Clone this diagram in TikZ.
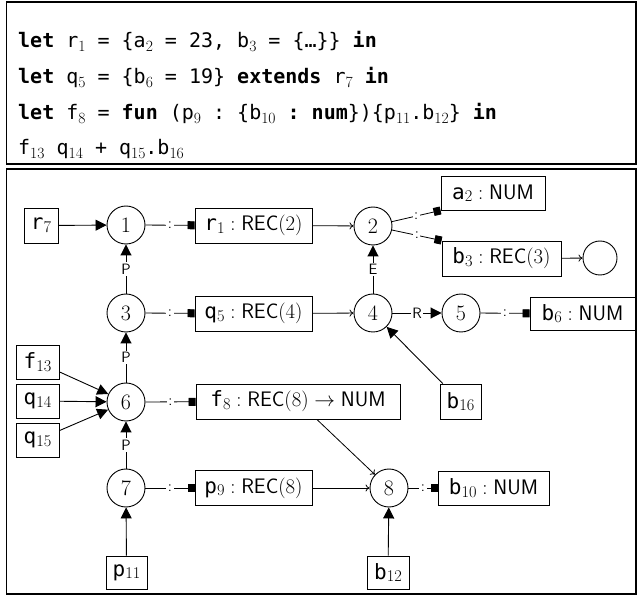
\documentclass[tikz,border=0pt]{standalone}
\usepackage{fontspec}
\setmonofont{DejaVu Sans Mono}
\usetikzlibrary{arrows.meta}
\makeatletter
\newcommand\vsub[1]{\raisebox{-0.28ex}{\fontsize{\strip@pt\dimexpr0.78\dimexpr\f@size pt\relax\relax}{1}\selectfont\rmfamily\mdseries #1}}
\makeatother
\begin{document}
\begin{tikzpicture}[x=1pt,y=-1pt,
 frame/.style={line width=1.2pt},
 codeline/.style={anchor=base west, inner sep=0pt, font=\fontsize{20}{22}\selectfont\ttfamily},
 vnode/.style={circle, draw, line width=0.9pt, minimum size=38pt, inner sep=0pt, font=\fontsize{22}{24}\selectfont},
 tbox/.style={draw, line width=0.9pt, minimum height=35pt, inner xsep=6pt, inner ysep=0pt, font=\fontsize{21}{23}\selectfont},
 heavy/.style={line width=0.9pt, -{Triangle[length=11pt,width=11pt]}},
 light/.style={line width=0.8pt, -{To[length=4pt,width=7pt]}},
 typed/.style={line width=0.8pt, -{Square[length=7pt,width=8pt]}},
 elab/.style={midway, fill=white, inner sep=1.5pt, font=\fontsize{15}{16}\selectfont\sffamily},
]
\useasboundingbox (0,0) rectangle (641,596);
\draw[frame] (6.5,2) rectangle (636,164);
\draw[frame] (6.5,169) rectangle (636,594);

% code
\node[codeline] (c1) at (18,48) {\textbf{let} r\vsub{1} = \{a\vsub{2} = 23, b\vsub{3} = \{\ldots\}\} \textbf{in}};
\node[codeline] (c2) at (18,84) {\textbf{let} q\vsub{5} = \{b\vsub{6} = 19\} \textbf{extends} r\vsub{7} \textbf{in}};
\node[codeline] (c3) at (18,120) {\textbf{let} f\vsub{8} = \textbf{fun} (p\vsub{9} : \{b\vsub{10} \textbf{: num}\})\{p\vsub{11}.b\vsub{12}\} \textbf{in}};
\node[codeline] (c4) at (18,155) {f\vsub{13} q\vsub{14} + q\vsub{15}.b\vsub{16}};

% graph nodes
\node[vnode] (n1) at (126,225) {1};
\node[vnode] (n2) at (373,226) {2};
\node[vnode] (n3) at (126,313) {3};
\node[vnode] (n4) at (373,313) {4};
\node[vnode] (n5) at (461,313) {5};
\node[vnode] (n6) at (126,402) {6};
\node[vnode] (n7) at (126,488) {7};
\node[vnode] (n8) at (389,488) {8};
\node[circle, draw, line width=0.9pt, minimum size=34pt] (n9) at (600,258) {};

\node[tbox, minimum width=34pt] (r7) at (41,225.5) {\texttt{r}\vsub{7}};
\node[tbox, minimum width=117pt] (r1t) at (253.5,225.5) {\texttt{r}\vsub{1}$\;:\mathsf{REC}(2)$};
\node[tbox, minimum width=104pt, minimum height=34pt] (a2t) at (493,193) {\texttt{a}\vsub{2}$\;:\mathsf{NUM}$};
\node[tbox, minimum width=119pt] (b3t) at (501.5,258.5) {\texttt{b}\vsub{3}$\;:\mathsf{REC}(3)$};
\node[tbox, minimum width=117pt] (q5t) at (253.5,313.5) {\texttt{q}\vsub{5}$\;:\mathsf{REC}(4)$};
\node[tbox, minimum width=105pt, minimum height=33pt] (b6t) at (582.5,313.5) {\texttt{b}\vsub{6}$\;:\mathsf{NUM}$};
\node[tbox, minimum width=41pt] (b16) at (460.5,401.5) {\texttt{b}\vsub{16}};
\node[tbox, minimum width=43pt, minimum height=34pt] (f13) at (37.5,362) {\texttt{f}\vsub{13}};
\node[tbox, minimum width=43pt, minimum height=34pt] (q14) at (37.5,401) {\texttt{q}\vsub{14}};
\node[tbox, minimum width=43pt, minimum height=34pt] (q15) at (37.5,440) {\texttt{q}\vsub{15}};
\node[tbox, minimum width=204pt] (f8t) at (298,401.5) {\texttt{f}\vsub{8}$\;:\mathsf{REC}(8) \rightarrow \mathsf{NUM}$};
\node[tbox, minimum width=117pt] (p9t) at (253.5,488) {\texttt{p}\vsub{9}$\;:\mathsf{REC}(8)$};
\node[tbox, minimum width=111pt, minimum height=34pt] (b10t) at (493.5,488) {\texttt{b}\vsub{10}$\;:\mathsf{NUM}$};
\node[tbox, minimum width=41pt, minimum height=33pt] (p11) at (126.5,572.5) {\texttt{p}\vsub{11}};
\node[tbox, minimum width=42pt, minimum height=33pt] (b12) at (388,572.5) {\texttt{b}\vsub{12}};

% heavy edges
\draw[heavy] (r7) -- (n1);
\draw[heavy] (n3) -- node[elab] {P} (n1);
\draw[heavy] (n6) -- node[elab] {P} (n3);
\draw[heavy] (n7) -- node[elab] {P} (n6);
\draw[heavy] (f13) -- (n6);
\draw[heavy] (q14) -- (n6);
\draw[heavy] (q15) -- (n6);
\draw[heavy] (n4) -- node[elab] {E} (n2);
\draw[heavy] (n4) -- node[elab] {R} (n5);
\draw[heavy] (b16) -- (n4);
\draw[heavy] (p11) -- (n7);
\draw[heavy] (b12) -- (n8);

% light edges
\draw[light] (r1t) -- (n2);
\draw[light] (q5t) -- (n4);
\draw[light] (p9t) -- (n8);
\draw[light] (f8t) -- (n8);
\draw[light] (b3t) -- (n9);

% typed edges
\draw[typed] (n1) -- node[elab] {:} (r1t);
\draw[typed] (n3) -- node[elab] {:} (q5t);
\draw[typed] (n6) -- node[elab] {:} (f8t);
\draw[typed] (n7) -- node[elab] {:} (p9t);
\draw[typed] (n2) -- node[elab] {:} (a2t.south west);
\draw[typed] (n2) -- node[elab] {:} (b3t.north west);
\draw[typed] (n5) -- node[elab] {:} (b6t);
\draw[typed] (n8) -- node[elab] {:} (b10t);
\end{tikzpicture}
\end{document}
